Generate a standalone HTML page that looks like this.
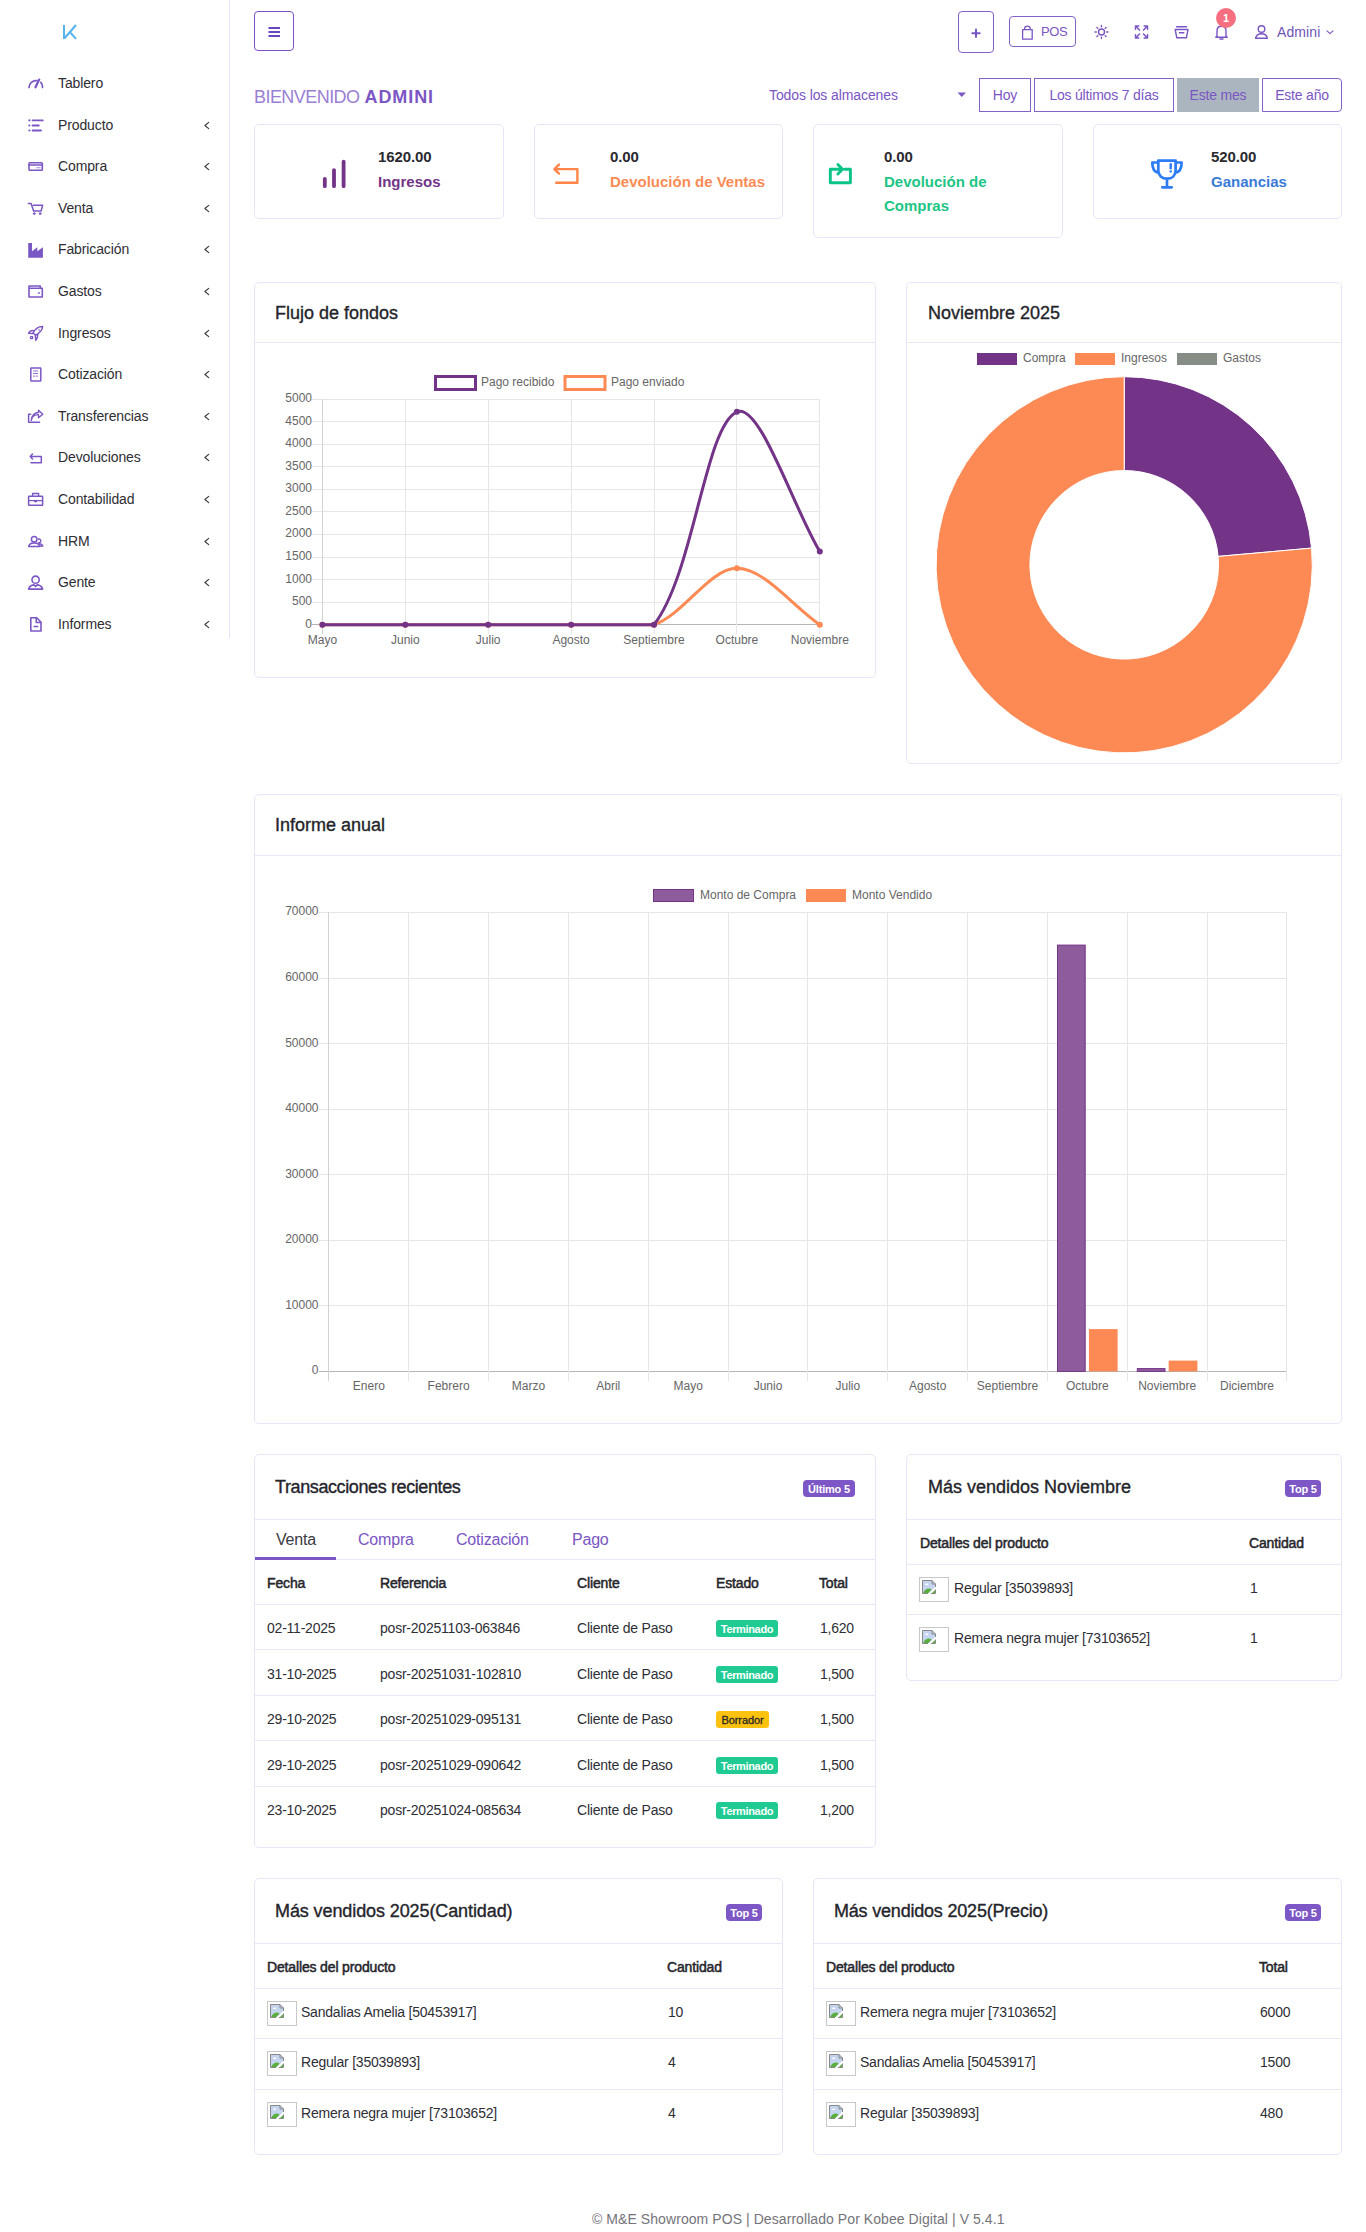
<!DOCTYPE html>
<html><head><meta charset="utf-8"><title>Dashboard</title>
<style>
*{box-sizing:border-box;margin:0;padding:0}
html,body{width:1366px;height:2232px;overflow:hidden;background:#fff;font-family:"Liberation Sans",sans-serif;color:#2c2c33;font-size:14px}
body{position:relative}
.abs{position:absolute}
#side{position:absolute;left:0;top:0;width:230px;height:638px;border-right:1px solid #e4e4fa;background:#fff}
.stx{position:absolute;left:58px;font-size:14px;color:#2e2e33;letter-spacing:-0.12px;white-space:nowrap;line-height:18px}
.card{position:absolute;background:#fff;border:1px solid #e6e6fa;border-radius:5px}
.ctitle{position:absolute;font-size:18px;color:#24242b;white-space:nowrap;letter-spacing:0px;line-height:22px;-webkit-text-stroke:0.35px #24242b}
.hl{position:absolute;height:1px;background:#e8e8f9}
.btn{position:absolute;border:1px solid #7a52c6;border-radius:4px;background:#fff;color:#7a52c6}
.fb{font-size:14px;text-align:center;line-height:32px;color:#7a55c4;letter-spacing:-0.2px;border-color:#8461c9}
.val{position:absolute;font-size:15px;font-weight:bold;color:#2a2a30;letter-spacing:-0.1px;line-height:18px}
.lab{position:absolute;font-size:15px;font-weight:bold;letter-spacing:0px;line-height:24px;white-space:nowrap}
.badge{position:absolute;background:#7e57c6;color:#fff;font-size:11px;font-weight:bold;border-radius:4px;text-align:center;line-height:18.5px;letter-spacing:-0.2px}
.th{position:absolute;font-weight:normal;-webkit-text-stroke:0.5px #25252b;font-size:14px;letter-spacing:-0.15px;color:#25252b;white-space:nowrap;line-height:18px}
.td{position:absolute;font-size:14px;letter-spacing:-0.22px;color:#2e2e35;white-space:nowrap;line-height:18px}
.ax{position:absolute;font-size:12px;color:#666;white-space:nowrap;line-height:14px}
.tab{position:absolute;font-size:16px;letter-spacing:-0.2px;white-space:nowrap;line-height:20px}
.sbadge{position:absolute;height:17px;border-radius:3px;font-size:11px;font-weight:bold;text-align:center;line-height:18px;letter-spacing:-0.35px}
.pimg{position:absolute;width:30px;height:25px;border:1px solid #c8c8c8;background:#fff}
</style></head>
<body>
<div id="side"></div>
<div class="stx" style="top:74px">Tablero</div>
<div class="stx" style="top:116px">Producto</div>
<div class="stx" style="top:157px">Compra</div>
<div class="stx" style="top:199px">Venta</div>
<div class="stx" style="top:240px">Fabricación</div>
<div class="stx" style="top:282px">Gastos</div>
<div class="stx" style="top:324px">Ingresos</div>
<div class="stx" style="top:365px">Cotización</div>
<div class="stx" style="top:407px">Transferencias</div>
<div class="stx" style="top:448px">Devoluciones</div>
<div class="stx" style="top:490px">Contabilidad</div>
<div class="stx" style="top:532px">HRM</div>
<div class="stx" style="top:573px">Gente</div>
<div class="stx" style="top:615px">Informes</div>
<svg class="abs" style="left:0;top:0" width="230" height="638" viewBox="0 0 230 638" fill="none" stroke="#7b57c5" stroke-width="1.6" stroke-linecap="round" stroke-linejoin="round">
<path d="M64 25 V38.9 M64.5 38.2 L76 25 M69.8 32 L76 38.9" stroke="#58b4ee" stroke-width="2.1" stroke-linecap="butt" stroke-linejoin="miter"/>
<path d="M29 87.5 A6.9 6.9 0 0 1 36.8 80.7" stroke-width="1.7"/><path d="M40.8 82.3 A6.9 6.9 0 0 1 42.6 87.5" stroke-width="1.7"/>
<path d="M35.5 87.3 L39.2 79.6" stroke-width="2.3"/>
<path d="M32.6 120.4 H42.8 M32.6 125.5 H38.8 M32.6 130.5 H41" stroke-width="1.8"/>
<circle cx="29.4" cy="120.4" r="1.1" fill="#7b57c5" stroke="none"/><circle cx="29.4" cy="125.5" r="1.1" fill="#7b57c5" stroke="none"/><circle cx="29.4" cy="130.5" r="1.1" fill="#7b57c5" stroke="none"/>
<rect x="29" y="162.7" width="13.3" height="7.6" rx="0.8" stroke-width="1.6"/><path d="M29 165 H42.3" stroke-width="1.7"/><path d="M36.7 167.8 H40.2" stroke-width="1.1" stroke-opacity="0.7"/>
<path d="M28.4 203.5 H31.1 L33.6 210.9 H41.2 L42.6 205.2 H33.4" stroke-width="1.5"/><circle cx="34.2" cy="213.6" r="0.9" fill="#7b57c5" stroke-width="1"/><circle cx="40.1" cy="213.6" r="0.9" fill="#7b57c5" stroke-width="1"/>
<path d="M28.2 243 H32 V251.3 L37.3 247.2 V251.3 L42.9 247.2 V257.8 H28.2 Z" fill="#7b57c5" stroke="none"/>
<path d="M29 286 H40.3 V288.3 M29 286 V297 H42.3 V288.3 H29.4" stroke-width="1.6"/><circle cx="39" cy="293" r="0.9" fill="#7b57c5" stroke="none"/>
<path d="M42.6 326.6 C38.5 326.5 35.3 328.8 33 332.8 L35.6 335.3 C39.6 333 42.5 330.2 42.6 326.6 Z" stroke-width="1.5"/><path d="M33.3 330.6 C31.2 330.4 29.5 331.5 28.5 333.3 L32.8 333.5 M37.7 334.4 C37.9 336.5 37.2 338.6 35.8 340.4 L35.3 335.6" stroke-width="1.4"/><rect x="30.5" y="336.6" width="2.2" height="2" rx="0.6" stroke-width="1.3"/><circle cx="39.1" cy="330.1" r="0.8" fill="#7b57c5" stroke="none"/>
<rect x="30.8" y="367.9" width="10" height="13.2" rx="0.5" stroke-width="1.5"/><path d="M33.5 371 H37.6 M33.5 373.5 H37.6 M33.5 376.1 H35.2 M36.6 376.1 H37.6" stroke-width="1" stroke-opacity="0.85"/>
<path d="M30.7 414.3 H28.6 V422.3 H39.5" stroke-width="1.5"/><path d="M31.3 420.4 C31.8 416.4 34.5 414.6 38.5 414.6 V417.8 L42.8 414.3 L38.5 410.2 V412.5 C35 412.5 31.5 415.5 31.3 420.4 Z" stroke-width="1.4"/>
<path d="M32.5 454 L30.2 456.5 L32.5 459 M30.6 456.5 H41.3 V462.8 H31" stroke-width="1.5"/>
<rect x="28.6" y="496.3" width="14" height="8.9" rx="0.5" stroke-width="1.5"/><path d="M32.6 496.3 V493.5 H38.6 V496.3 M28.6 500.6 H42.6" stroke-width="1.4"/><path d="M34.5 500.6 A1.1 1.1 0 0 0 36.7 500.6" stroke-width="1.5"/>
<circle cx="34.2" cy="539.2" r="2.8" stroke-width="1.5"/><path d="M28.6 546.6 C29 544.2 31 543 34.2 543 C37.4 543 39.4 544.2 39.8 546.6 Z" stroke-width="1.5"/><path d="M38.3 539.2 A1.8 1.8 0 1 1 38.6 542.6 M39.5 543.8 C41.3 544 42.5 544.8 42.8 546 H40.5" stroke-width="1.4"/>
<circle cx="35.6" cy="579.7" r="3.6" stroke-width="1.6"/><path d="M28.6 589.1 C29.3 586.5 31.5 585.1 34 584.9 L35.6 586.3 L37.2 584.9 C39.7 585.1 41.9 586.5 42.6 589.1 Z" stroke-width="1.6"/>
<path d="M30.8 617.8 H36.8 L41 622.2 V631 H30.8 Z" stroke-width="1.6"/><path d="M36.2 618.2 V622.4 H40.8" stroke-width="1.5"/><path d="M34 626.5 H37.7" stroke-width="1.3"/>
<path d="M208.7 122.3 L204.9 125.5 L208.7 128.7" stroke="#34343a" stroke-width="1.1"/>
<path d="M208.7 163.3 L204.9 166.5 L208.7 169.7" stroke="#34343a" stroke-width="1.1"/>
<path d="M208.7 205.3 L204.9 208.5 L208.7 211.7" stroke="#34343a" stroke-width="1.1"/>
<path d="M208.7 246.3 L204.9 249.5 L208.7 252.7" stroke="#34343a" stroke-width="1.1"/>
<path d="M208.7 288.3 L204.9 291.5 L208.7 294.7" stroke="#34343a" stroke-width="1.1"/>
<path d="M208.7 330.3 L204.9 333.5 L208.7 336.7" stroke="#34343a" stroke-width="1.1"/>
<path d="M208.7 371.3 L204.9 374.5 L208.7 377.7" stroke="#34343a" stroke-width="1.1"/>
<path d="M208.7 413.3 L204.9 416.5 L208.7 419.7" stroke="#34343a" stroke-width="1.1"/>
<path d="M208.7 454.3 L204.9 457.5 L208.7 460.7" stroke="#34343a" stroke-width="1.1"/>
<path d="M208.7 496.3 L204.9 499.5 L208.7 502.7" stroke="#34343a" stroke-width="1.1"/>
<path d="M208.7 538.3 L204.9 541.5 L208.7 544.7" stroke="#34343a" stroke-width="1.1"/>
<path d="M208.7 579.3 L204.9 582.5 L208.7 585.7" stroke="#34343a" stroke-width="1.1"/>
<path d="M208.7 621.3 L204.9 624.5 L208.7 627.7" stroke="#34343a" stroke-width="1.1"/>
</svg>
<!-- menu btn -->
<div class="btn" style="left:254px;top:11px;width:40px;height:40px"></div>
<svg class="abs" style="left:0;top:0" width="1366" height="240" viewBox="0 0 1366 240" fill="none">
<path d="M268.5 28 H280 M268.5 32 H280 M268.5 36 H280" stroke="#6a45bd" stroke-width="1.9"/>
</svg>
<!-- right header -->
<div class="btn" style="left:958px;top:11px;width:36px;height:42px;border-color:#8461c9"></div>
<div class="btn" style="left:1009px;top:16px;width:67px;height:31px;border-color:#8461c9"></div>
<div class="abs" style="left:1041px;top:24px;font-size:13px;line-height:16px;color:#7a55c4;letter-spacing:-0.4px">POS</div>
<svg class="abs" style="left:0;top:0" width="1366" height="120" viewBox="0 0 1366 120" fill="none" stroke="#7a55c4" stroke-width="1.4" stroke-linecap="round" stroke-linejoin="round">
<path d="M972.3 33.2 H979.7 M976 29.5 V36.9" stroke-width="2"/>
<!-- bag -->
<path d="M1022.6 29.6 H1032.2 V39.2 H1022.6 Z M1024.6 29.6 V28.6 C1024.6 25.3 1030.2 25.3 1030.2 28.6 V29.6" stroke-width="1.3"/>
<!-- sun -->
<circle cx="1101.5" cy="32" r="3"/><path d="M1101.5 25.5 V26.8 M1101.5 37.2 V38.5 M1095 32 H1096.3 M1106.7 32 H1108 M1096.9 27.4 L1097.8 28.3 M1105.2 35.7 L1106.1 36.6 M1096.9 36.6 L1097.8 35.7 M1105.2 28.3 L1106.1 27.4"/>
<!-- expand -->
<path d="M1135.5 26 L1139.5 30 M1147.5 26 L1143.5 30 M1135.5 38 L1139.5 34 M1147.5 38 L1143.5 34 M1135.5 26 V29.3 M1135.5 26 H1138.8 M1147.5 26 V29.3 M1147.5 26 H1144.2 M1135.5 38 V34.7 M1135.5 38 H1138.8 M1147.5 38 V34.7 M1147.5 38 H1144.2" stroke-width="1.5"/>
<!-- inbox/archive -->
<path d="M1175.2 29.5 H1188 L1186.4 37.8 H1176.8 Z M1176.6 26.8 H1186.6 M1179.4 32.8 H1183.8"/>
<!-- bell -->
<path d="M1217 36 V31 C1217 28 1218.8 26.3 1221.5 26.3 C1224.2 26.3 1226 28 1226 31 V36 L1227.2 37.2 H1215.8 Z M1220 39 H1223"/>
<!-- user -->
<circle cx="1261.5" cy="29" r="3.3"/><path d="M1255.6 38.2 C1256.3 35 1258.5 33.8 1261.5 33.8 C1264.5 33.8 1266.7 35 1267.4 38.2 Z"/>
<path d="M1327 30.8 L1330 33.6 L1333 30.8" stroke-width="1.1"/>
</svg>
<div class="abs" style="left:1216px;top:8px;width:20px;height:20px;border-radius:10px;background:#f56f81;color:#fff;font-size:11px;font-weight:bold;text-align:center;line-height:20px">1</div>
<div class="abs" style="left:1277px;top:24px;font-size:14px;line-height:16px;color:#6f54b6;letter-spacing:0.1px">Admini</div>

<!-- welcome -->
<div class="abs" style="left:254px;top:87px;font-size:18px;line-height:20px;white-space:nowrap"><span style="color:#9a80d4;letter-spacing:-0.55px">BIENVENIDO</span> <b style="color:#7b56c4;letter-spacing:0.9px">ADMINI</b></div>
<div class="abs" style="left:769px;top:87px;font-size:14px;color:#7a55c4;letter-spacing:-0.1px">Todos los almacenes</div>
<svg class="abs" style="left:957px;top:92px" width="10" height="6"><path d="M0.5 0.5 H9 L4.75 5 Z" fill="#7a55c4"/></svg>
<div class="btn fb" style="left:979px;top:78px;width:52px;height:34px;border-radius:0">Hoy</div>
<div class="btn fb" style="left:1034px;top:78px;width:140px;height:34px;border-radius:0">Los últimos 7 días</div>
<div class="btn fb" style="left:1177px;top:78px;width:82px;height:34px;border-radius:0;background:#abb5bf;border-color:#abb5bf">Este mes</div>
<div class="btn fb" style="left:1262px;top:78px;width:80px;height:34px;border-radius:0 4px 4px 0">Este año</div>

<!-- stat cards -->
<div class="card" style="left:254px;top:124px;width:250px;height:95px"></div>
<div class="card" style="left:534px;top:124px;width:249px;height:95px"></div>
<div class="card" style="left:813px;top:124px;width:250px;height:114px"></div>
<div class="card" style="left:1093px;top:124px;width:249px;height:95px"></div>
<svg class="abs" style="left:0;top:0" width="1366" height="240" viewBox="0 0 1366 240" fill="none" stroke-linecap="round" stroke-linejoin="round">
<path d="M324.8 178.9 V186.2 M334 170.1 V186.2 M343.6 161.6 V186.2" stroke="#733387" stroke-width="3.8"/>
<path d="M559 164.6 L554.4 169.1 L559 173.6 M555 169.1 H577.4 V182.7 H556.2" stroke="#fe8448" stroke-width="2.4"/>
<path d="M844.8 169.3 H850.4 V182.8 H830.3 V169.3 H841.6 M837.9 164.5 L842.5 169.3 L837.9 174" stroke="#0bc387" stroke-width="2.9"/>
<path d="M1158.3 160.6 H1175.6 V170.5 C1175.6 175.5 1172 178.7 1167 178.7 C1162 178.7 1158.3 175.5 1158.3 170.5 Z M1158.3 162.5 H1152.3 C1152.3 168.5 1154.5 172 1158.3 172.6 M1175.6 162.5 H1181.6 C1181.6 168.5 1179.4 172 1175.6 172.6 M1167 178.7 V187.3 M1162.3 187.3 H1171.7" stroke="#2d7cf6" stroke-width="2.7"/>
<path d="M1170.7 164.2 V168.2" stroke="#2d7cf6" stroke-width="2.4"/><circle cx="1170.7" cy="171.4" r="1.2" fill="#2d7cf6"/>
</svg>
<div class="stat">
<div class="val" style="left:378px;top:148px">1620.00</div>
<div class="lab" style="left:378px;top:170px;color:#733387">Ingresos</div>
<div class="val" style="left:610px;top:148px">0.00</div>
<div class="lab" style="left:610px;top:170px;color:#fa8b55">Devolución de Ventas</div>
<div class="val" style="left:884px;top:148px">0.00</div>
<div class="lab" style="left:884px;top:170px;color:#1cc584">Devolución de<br>Compras</div>
<div class="val" style="left:1211px;top:148px">520.00</div>
<div class="lab" style="left:1211px;top:170px;color:#3a7bd8">Ganancias</div>
</div>

<div class="card" style="left:254px;top:282px;width:622px;height:396px"></div>

<div class="ctitle" style="left:275px;top:302px">Flujo de fondos</div>
<div class="hl" style="left:255px;top:342px;width:620px"></div>
<div class="card" style="left:906px;top:282px;width:436px;height:482px"></div>

<div class="ctitle" style="left:928px;top:302px">Noviembre 2025</div>
<div class="hl" style="left:907px;top:342px;width:434px"></div>
<div class="card" style="left:254px;top:794px;width:1088px;height:630px"></div>

<div class="ctitle" style="left:275px;top:814px">Informe anual</div>
<div class="hl" style="left:255px;top:855px;width:1086px"></div>
<svg class="abs" style="left:0;top:0" width="1366" height="1440" viewBox="0 0 1366 1440" font-family="Liberation Sans" font-size="12" fill="#666">
<line x1="312" y1="624.5" x2="820" y2="624.5" stroke="#b5b5b5" stroke-width="1"/>
<text x="312" y="627.6" text-anchor="end">0</text>
<line x1="312" y1="602.5" x2="820" y2="602.5" stroke="#e6e6e6" stroke-width="1"/>
<text x="312" y="605.1" text-anchor="end">500</text>
<line x1="312" y1="579.5" x2="820" y2="579.5" stroke="#e6e6e6" stroke-width="1"/>
<text x="312" y="582.5" text-anchor="end">1000</text>
<line x1="312" y1="557.5" x2="820" y2="557.5" stroke="#e6e6e6" stroke-width="1"/>
<text x="312" y="560.0" text-anchor="end">1500</text>
<line x1="312" y1="534.5" x2="820" y2="534.5" stroke="#e6e6e6" stroke-width="1"/>
<text x="312" y="537.4" text-anchor="end">2000</text>
<line x1="312" y1="511.5" x2="820" y2="511.5" stroke="#e6e6e6" stroke-width="1"/>
<text x="312" y="514.9" text-anchor="end">2500</text>
<line x1="312" y1="489.5" x2="820" y2="489.5" stroke="#e6e6e6" stroke-width="1"/>
<text x="312" y="492.3" text-anchor="end">3000</text>
<line x1="312" y1="466.5" x2="820" y2="466.5" stroke="#e6e6e6" stroke-width="1"/>
<text x="312" y="469.8" text-anchor="end">3500</text>
<line x1="312" y1="444.5" x2="820" y2="444.5" stroke="#e6e6e6" stroke-width="1"/>
<text x="312" y="447.2" text-anchor="end">4000</text>
<line x1="312" y1="421.5" x2="820" y2="421.5" stroke="#e6e6e6" stroke-width="1"/>
<text x="312" y="424.6" text-anchor="end">4500</text>
<line x1="312" y1="399.5" x2="820" y2="399.5" stroke="#e6e6e6" stroke-width="1"/>
<text x="312" y="402.1" text-anchor="end">5000</text>
<line x1="322.5" y1="399" x2="322.5" y2="634" stroke="#d2d2d2" stroke-width="1"/>
<text x="322.4" y="644" text-anchor="middle">Mayo</text>
<line x1="405.5" y1="399" x2="405.5" y2="634" stroke="#e6e6e6" stroke-width="1"/>
<text x="405.3" y="644" text-anchor="middle">Junio</text>
<line x1="488.5" y1="399" x2="488.5" y2="634" stroke="#e6e6e6" stroke-width="1"/>
<text x="488.2" y="644" text-anchor="middle">Julio</text>
<line x1="571.5" y1="399" x2="571.5" y2="634" stroke="#e6e6e6" stroke-width="1"/>
<text x="571.1" y="644" text-anchor="middle">Agosto</text>
<line x1="654.5" y1="399" x2="654.5" y2="634" stroke="#e6e6e6" stroke-width="1"/>
<text x="654.0" y="644" text-anchor="middle">Septiembre</text>
<line x1="736.5" y1="399" x2="736.5" y2="634" stroke="#e6e6e6" stroke-width="1"/>
<text x="736.9" y="644" text-anchor="middle">Octubre</text>
<line x1="819.5" y1="399" x2="819.5" y2="634" stroke="#e6e6e6" stroke-width="1"/>
<text x="819.8" y="644" text-anchor="middle">Noviembre</text>
<path d="M322.4 624.7 C349.8 624.7 377.9 624.7 405.3 624.7 C432.7 624.7 460.8 624.7 488.2 624.7 C515.6 624.7 543.7 624.7 571.1 624.7 C598.5 624.7 629.2 624.7 654.0 624.7 C683.9 614.5 709.5 568.3 736.9 568.3 C764.3 568.3 792.4 606.1 819.8 624.7" fill="none" stroke="#fd8a54" stroke-width="3"/>
<circle cx="322.4" cy="624.7" r="3" fill="#fd8a54"/>
<circle cx="405.3" cy="624.7" r="3" fill="#fd8a54"/>
<circle cx="488.2" cy="624.7" r="3" fill="#fd8a54"/>
<circle cx="571.1" cy="624.7" r="3" fill="#fd8a54"/>
<circle cx="654.0" cy="624.7" r="3" fill="#fd8a54"/>
<circle cx="736.9" cy="568.3" r="3" fill="#fd8a54"/>
<circle cx="819.8" cy="624.7" r="3" fill="#fd8a54"/>
<path d="M322.4 624.7 C349.8 624.7 377.9 624.7 405.3 624.7 C432.7 624.7 460.8 624.7 488.2 624.7 C515.6 624.7 543.7 624.7 571.1 624.7 C598.5 624.7 639.4 624.7 654.0 624.7 C694.1 573.2 704.9 425.9 736.9 411.8 C759.6 401.8 792.4 505.5 819.8 551.6" fill="none" stroke="#733387" stroke-width="3"/>
<circle cx="322.4" cy="624.7" r="3" fill="#733387"/>
<circle cx="405.3" cy="624.7" r="3" fill="#733387"/>
<circle cx="488.2" cy="624.7" r="3" fill="#733387"/>
<circle cx="571.1" cy="624.7" r="3" fill="#733387"/>
<circle cx="654.0" cy="624.7" r="3" fill="#733387"/>
<circle cx="736.9" cy="411.8" r="3" fill="#733387"/>
<circle cx="819.8" cy="551.6" r="3" fill="#733387"/>
<rect x="435.5" y="376.5" width="40" height="13" fill="none" stroke="#733387" stroke-width="3"/>
<text x="481" y="386.3">Pago recibido</text>
<rect x="565" y="376.5" width="40" height="13" fill="none" stroke="#fd8a54" stroke-width="3"/>
<text x="611" y="386.3">Pago enviado</text>
<path d="M1124.20 376.70 A188.1 188.1 0 0 1 1311.56 548.10 L1218.13 556.43 A94.3 94.3 0 0 0 1124.20 470.50 Z" fill="#733387" stroke="#fff" stroke-width="1"/>
<path d="M1311.56 548.10 A188.1 188.1 0 1 1 1124.20 376.70 L1124.20 470.50 A94.3 94.3 0 1 0 1218.13 556.43 Z" fill="#fd8a54" stroke="#fff" stroke-width="1"/>
<rect x="977" y="353" width="40" height="12" fill="#733387"/><text x="1023" y="362.3">Compra</text>
<rect x="1075" y="353" width="40" height="12" fill="#fd8a54"/><text x="1121" y="362.3">Ingresos</text>
<rect x="1177" y="353" width="40" height="12" fill="#868c86"/><text x="1223" y="362.3">Gastos</text>
<line x1="319" y1="1371.5" x2="1287" y2="1371.5" stroke="#b5b5b5" stroke-width="1"/>
<text x="318.5" y="1374.3" text-anchor="end">0</text>
<line x1="319" y1="1305.5" x2="1287" y2="1305.5" stroke="#e6e6e6" stroke-width="1"/>
<text x="318.5" y="1308.7" text-anchor="end">10000</text>
<line x1="319" y1="1240.5" x2="1287" y2="1240.5" stroke="#e6e6e6" stroke-width="1"/>
<text x="318.5" y="1243.2" text-anchor="end">20000</text>
<line x1="319" y1="1174.5" x2="1287" y2="1174.5" stroke="#e6e6e6" stroke-width="1"/>
<text x="318.5" y="1177.6" text-anchor="end">30000</text>
<line x1="319" y1="1109.5" x2="1287" y2="1109.5" stroke="#e6e6e6" stroke-width="1"/>
<text x="318.5" y="1112.1" text-anchor="end">40000</text>
<line x1="319" y1="1043.5" x2="1287" y2="1043.5" stroke="#e6e6e6" stroke-width="1"/>
<text x="318.5" y="1046.5" text-anchor="end">50000</text>
<line x1="319" y1="978.5" x2="1287" y2="978.5" stroke="#e6e6e6" stroke-width="1"/>
<text x="318.5" y="981.0" text-anchor="end">60000</text>
<line x1="319" y1="912.5" x2="1287" y2="912.5" stroke="#e6e6e6" stroke-width="1"/>
<text x="318.5" y="915.4" text-anchor="end">70000</text>
<line x1="328.5" y1="912" x2="328.5" y2="1381" stroke="#d2d2d2" stroke-width="1"/>
<line x1="408.5" y1="912" x2="408.5" y2="1381" stroke="#e6e6e6" stroke-width="1"/>
<line x1="488.5" y1="912" x2="488.5" y2="1381" stroke="#e6e6e6" stroke-width="1"/>
<line x1="568.5" y1="912" x2="568.5" y2="1381" stroke="#e6e6e6" stroke-width="1"/>
<line x1="648.5" y1="912" x2="648.5" y2="1381" stroke="#e6e6e6" stroke-width="1"/>
<line x1="728.5" y1="912" x2="728.5" y2="1381" stroke="#e6e6e6" stroke-width="1"/>
<line x1="807.5" y1="912" x2="807.5" y2="1381" stroke="#e6e6e6" stroke-width="1"/>
<line x1="887.5" y1="912" x2="887.5" y2="1381" stroke="#e6e6e6" stroke-width="1"/>
<line x1="967.5" y1="912" x2="967.5" y2="1381" stroke="#e6e6e6" stroke-width="1"/>
<line x1="1047.5" y1="912" x2="1047.5" y2="1381" stroke="#e6e6e6" stroke-width="1"/>
<line x1="1127.5" y1="912" x2="1127.5" y2="1381" stroke="#e6e6e6" stroke-width="1"/>
<line x1="1207.5" y1="912" x2="1207.5" y2="1381" stroke="#e6e6e6" stroke-width="1"/>
<line x1="1286.5" y1="912" x2="1286.5" y2="1381" stroke="#e6e6e6" stroke-width="1"/>
<text x="368.8" y="1390" text-anchor="middle">Enero</text>
<text x="448.6" y="1390" text-anchor="middle">Febrero</text>
<text x="528.5" y="1390" text-anchor="middle">Marzo</text>
<text x="608.3" y="1390" text-anchor="middle">Abril</text>
<text x="688.2" y="1390" text-anchor="middle">Mayo</text>
<text x="768.0" y="1390" text-anchor="middle">Junio</text>
<text x="847.8" y="1390" text-anchor="middle">Julio</text>
<text x="927.7" y="1390" text-anchor="middle">Agosto</text>
<text x="1007.5" y="1390" text-anchor="middle">Septiembre</text>
<text x="1087.3" y="1390" text-anchor="middle">Octubre</text>
<text x="1167.2" y="1390" text-anchor="middle">Noviembre</text>
<text x="1247.0" y="1390" text-anchor="middle">Diciembre</text>
<rect x="1057.5" y="945.1" width="27.7" height="426.3" fill="#8e5c9d" stroke="#733387" stroke-width="1"/>
<rect x="1088.9" y="1329.1" width="28.7" height="42.3" fill="#fd8a54"/>
<rect x="1137.3" y="1368.6" width="27.7" height="2.8" fill="#8e5c9d" stroke="#733387" stroke-width="1"/>
<rect x="1168.7" y="1360.6" width="28.7" height="10.8" fill="#fd8a54"/>
<rect x="653.5" y="889.5" width="40" height="12" fill="#8e5c9d" stroke="#733387" stroke-width="1"/><text x="700" y="899">Monto de Compra</text>
<rect x="806" y="889" width="40" height="13" fill="#fd8a54"/><text x="852" y="899">Monto Vendido</text>
</svg>
<div class="card" style="left:254px;top:1454px;width:622px;height:394px"></div>
<div class="ctitle" style="left:275px;top:1476px;letter-spacing:-0.39px">Transacciones recientes</div>
<div class="badge" style="left:803px;top:1480px;width:52px;height:17px">Último 5</div>
<div class="hl" style="left:255px;top:1519px;width:620px"></div>
<div class="tab" style="left:276px;top:1530px;color:#3a3a44">Venta</div>
<div class="tab" style="left:358px;top:1530px;color:#7a55c4">Compra</div>
<div class="tab" style="left:456px;top:1530px;color:#7a55c4">Cotización</div>
<div class="tab" style="left:572px;top:1530px;color:#7a55c4">Pago</div>
<div class="hl" style="left:255px;top:1559px;width:620px"></div>
<div class="abs" style="left:255px;top:1557px;width:81px;height:2.5px;background:#7a55c4"></div>
<div class="th" style="left:267px;top:1574px">Fecha</div>
<div class="th" style="left:380px;top:1574px">Referencia</div>
<div class="th" style="left:577px;top:1574px">Cliente</div>
<div class="th" style="left:716px;top:1574px">Estado</div>
<div class="th" style="left:819px;top:1574px">Total</div>
<div class="hl" style="left:255px;top:1604px;width:620px"></div>
<div class="td" style="left:267px;top:1619px">02-11-2025</div>
<div class="td" style="left:380px;top:1619px">posr-20251103-063846</div>
<div class="td" style="left:577px;top:1619px">Cliente de Paso</div>
<div class="sbadge" style="left:716px;top:1620px;width:62px;background:#20cb93;color:#fff">Terminado</div>
<div class="td" style="left:820px;top:1619px">1,620</div>
<div class="td" style="left:267px;top:1664.5px">31-10-2025</div>
<div class="td" style="left:380px;top:1664.5px">posr-20251031-102810</div>
<div class="td" style="left:577px;top:1664.5px">Cliente de Paso</div>
<div class="sbadge" style="left:716px;top:1665.5px;width:62px;background:#20cb93;color:#fff">Terminado</div>
<div class="td" style="left:820px;top:1664.5px">1,500</div>
<div class="td" style="left:267px;top:1710px">29-10-2025</div>
<div class="td" style="left:380px;top:1710px">posr-20251029-095131</div>
<div class="td" style="left:577px;top:1710px">Cliente de Paso</div>
<div class="sbadge" style="left:716px;top:1711px;width:53px;background:#fdc10f;color:#2a2a2a;font-weight:normal;-webkit-text-stroke:0.3px #2a2a2a;letter-spacing:-0.1px">Borrador</div>
<div class="td" style="left:820px;top:1710px">1,500</div>
<div class="td" style="left:267px;top:1755.5px">29-10-2025</div>
<div class="td" style="left:380px;top:1755.5px">posr-20251029-090642</div>
<div class="td" style="left:577px;top:1755.5px">Cliente de Paso</div>
<div class="sbadge" style="left:716px;top:1756.5px;width:62px;background:#20cb93;color:#fff">Terminado</div>
<div class="td" style="left:820px;top:1755.5px">1,500</div>
<div class="td" style="left:267px;top:1801px">23-10-2025</div>
<div class="td" style="left:380px;top:1801px">posr-20251024-085634</div>
<div class="td" style="left:577px;top:1801px">Cliente de Paso</div>
<div class="sbadge" style="left:716px;top:1802px;width:62px;background:#20cb93;color:#fff">Terminado</div>
<div class="td" style="left:820px;top:1801px">1,200</div>
<div class="hl" style="left:255px;top:1649px;width:620px"></div>
<div class="hl" style="left:255px;top:1695px;width:620px"></div>
<div class="hl" style="left:255px;top:1740px;width:620px"></div>
<div class="hl" style="left:255px;top:1786px;width:620px"></div>
<div class="card" style="left:906px;top:1454px;width:436px;height:227px"></div>
<div class="ctitle" style="left:928px;top:1476px">Más vendidos Noviembre</div>
<div class="badge" style="left:1285px;top:1480px;width:36px;height:17px">Top 5</div>
<div class="hl" style="left:907px;top:1519px;width:434px"></div>
<div class="th" style="left:920px;top:1534px">Detalles del producto</div>
<div class="th" style="left:1249px;top:1534px">Cantidad</div>
<div class="hl" style="left:907px;top:1564px;width:434px"></div>
<div class="pimg" style="left:919px;top:1577px"><svg width="16" height="16" style="position:absolute;left:1px;top:1px" viewBox="0 0 16 16"><path d="M1.5 1.5 H11 L14.5 5 V7.5 L9 13 L7 14.5 H1.5 Z" fill="#c5d5f0"/><path d="M2 14.5 C3 11 5.5 9.5 8 9.5 C9 9.6 10 10 10.5 10.5 L7 14.5 Z" fill="#5aae3c"/><path d="M10.5 14.5 L14 11 V14.5 Z" fill="#5aae3c"/><path d="M4 6 C4.3 4.8 5.2 4.5 6 4.6 C6.6 4.6 7 5 7.5 6 Z" fill="#fff"/><path d="M1.5 14.5 V1.5 H11 L14.5 5 V8 M11 1.5 V5 H14.5 M14.5 10.5 V14.5 H10 M7 14.5 H1.5" fill="none" stroke="#888" stroke-width="1"/></svg></div>
<div class="td" style="left:954px;top:1579px">Regular [35039893]</div>
<div class="td" style="left:1250px;top:1579px">1</div>
<div class="pimg" style="left:919px;top:1627px"><svg width="16" height="16" style="position:absolute;left:1px;top:1px" viewBox="0 0 16 16"><path d="M1.5 1.5 H11 L14.5 5 V7.5 L9 13 L7 14.5 H1.5 Z" fill="#c5d5f0"/><path d="M2 14.5 C3 11 5.5 9.5 8 9.5 C9 9.6 10 10 10.5 10.5 L7 14.5 Z" fill="#5aae3c"/><path d="M10.5 14.5 L14 11 V14.5 Z" fill="#5aae3c"/><path d="M4 6 C4.3 4.8 5.2 4.5 6 4.6 C6.6 4.6 7 5 7.5 6 Z" fill="#fff"/><path d="M1.5 14.5 V1.5 H11 L14.5 5 V8 M11 1.5 V5 H14.5 M14.5 10.5 V14.5 H10 M7 14.5 H1.5" fill="none" stroke="#888" stroke-width="1"/></svg></div>
<div class="td" style="left:954px;top:1629px">Remera negra mujer [73103652]</div>
<div class="td" style="left:1250px;top:1629px">1</div>
<div class="hl" style="left:907px;top:1614px;width:434px"></div>
<div class="card" style="left:254px;top:1878px;width:529px;height:277px"></div>
<div class="ctitle" style="left:275px;top:1900px;letter-spacing:-0.1px">Más vendidos 2025(Cantidad)</div>
<div class="badge" style="left:726px;top:1904px;width:36px;height:17px">Top 5</div>
<div class="hl" style="left:255px;top:1943px;width:527px"></div>
<div class="th" style="left:267px;top:1958px">Detalles del producto</div>
<div class="th" style="left:667px;top:1958px">Cantidad</div>
<div class="hl" style="left:255px;top:1988px;width:527px"></div>
<div class="pimg" style="left:267px;top:2001px"><svg width="16" height="16" style="position:absolute;left:1px;top:1px" viewBox="0 0 16 16"><path d="M1.5 1.5 H11 L14.5 5 V7.5 L9 13 L7 14.5 H1.5 Z" fill="#c5d5f0"/><path d="M2 14.5 C3 11 5.5 9.5 8 9.5 C9 9.6 10 10 10.5 10.5 L7 14.5 Z" fill="#5aae3c"/><path d="M10.5 14.5 L14 11 V14.5 Z" fill="#5aae3c"/><path d="M4 6 C4.3 4.8 5.2 4.5 6 4.6 C6.6 4.6 7 5 7.5 6 Z" fill="#fff"/><path d="M1.5 14.5 V1.5 H11 L14.5 5 V8 M11 1.5 V5 H14.5 M14.5 10.5 V14.5 H10 M7 14.5 H1.5" fill="none" stroke="#888" stroke-width="1"/></svg></div>
<div class="td" style="left:301px;top:2003px">Sandalias Amelia [50453917]</div>
<div class="td" style="left:668px;top:2003px">10</div>
<div class="pimg" style="left:267px;top:2051px"><svg width="16" height="16" style="position:absolute;left:1px;top:1px" viewBox="0 0 16 16"><path d="M1.5 1.5 H11 L14.5 5 V7.5 L9 13 L7 14.5 H1.5 Z" fill="#c5d5f0"/><path d="M2 14.5 C3 11 5.5 9.5 8 9.5 C9 9.6 10 10 10.5 10.5 L7 14.5 Z" fill="#5aae3c"/><path d="M10.5 14.5 L14 11 V14.5 Z" fill="#5aae3c"/><path d="M4 6 C4.3 4.8 5.2 4.5 6 4.6 C6.6 4.6 7 5 7.5 6 Z" fill="#fff"/><path d="M1.5 14.5 V1.5 H11 L14.5 5 V8 M11 1.5 V5 H14.5 M14.5 10.5 V14.5 H10 M7 14.5 H1.5" fill="none" stroke="#888" stroke-width="1"/></svg></div>
<div class="td" style="left:301px;top:2053px">Regular [35039893]</div>
<div class="td" style="left:668px;top:2053px">4</div>
<div class="pimg" style="left:267px;top:2102px"><svg width="16" height="16" style="position:absolute;left:1px;top:1px" viewBox="0 0 16 16"><path d="M1.5 1.5 H11 L14.5 5 V7.5 L9 13 L7 14.5 H1.5 Z" fill="#c5d5f0"/><path d="M2 14.5 C3 11 5.5 9.5 8 9.5 C9 9.6 10 10 10.5 10.5 L7 14.5 Z" fill="#5aae3c"/><path d="M10.5 14.5 L14 11 V14.5 Z" fill="#5aae3c"/><path d="M4 6 C4.3 4.8 5.2 4.5 6 4.6 C6.6 4.6 7 5 7.5 6 Z" fill="#fff"/><path d="M1.5 14.5 V1.5 H11 L14.5 5 V8 M11 1.5 V5 H14.5 M14.5 10.5 V14.5 H10 M7 14.5 H1.5" fill="none" stroke="#888" stroke-width="1"/></svg></div>
<div class="td" style="left:301px;top:2104px">Remera negra mujer [73103652]</div>
<div class="td" style="left:668px;top:2104px">4</div>
<div class="hl" style="left:255px;top:2038px;width:527px"></div>
<div class="hl" style="left:255px;top:2089px;width:527px"></div>
<div class="card" style="left:813px;top:1878px;width:529px;height:277px"></div>
<div class="ctitle" style="left:834px;top:1900px;letter-spacing:-0.2px">Más vendidos 2025(Precio)</div>
<div class="badge" style="left:1285px;top:1904px;width:36px;height:17px">Top 5</div>
<div class="hl" style="left:814px;top:1943px;width:527px"></div>
<div class="th" style="left:826px;top:1958px">Detalles del producto</div>
<div class="th" style="left:1259px;top:1958px">Total</div>
<div class="hl" style="left:814px;top:1988px;width:527px"></div>
<div class="pimg" style="left:826px;top:2001px"><svg width="16" height="16" style="position:absolute;left:1px;top:1px" viewBox="0 0 16 16"><path d="M1.5 1.5 H11 L14.5 5 V7.5 L9 13 L7 14.5 H1.5 Z" fill="#c5d5f0"/><path d="M2 14.5 C3 11 5.5 9.5 8 9.5 C9 9.6 10 10 10.5 10.5 L7 14.5 Z" fill="#5aae3c"/><path d="M10.5 14.5 L14 11 V14.5 Z" fill="#5aae3c"/><path d="M4 6 C4.3 4.8 5.2 4.5 6 4.6 C6.6 4.6 7 5 7.5 6 Z" fill="#fff"/><path d="M1.5 14.5 V1.5 H11 L14.5 5 V8 M11 1.5 V5 H14.5 M14.5 10.5 V14.5 H10 M7 14.5 H1.5" fill="none" stroke="#888" stroke-width="1"/></svg></div>
<div class="td" style="left:860px;top:2003px">Remera negra mujer [73103652]</div>
<div class="td" style="left:1260px;top:2003px">6000</div>
<div class="pimg" style="left:826px;top:2051px"><svg width="16" height="16" style="position:absolute;left:1px;top:1px" viewBox="0 0 16 16"><path d="M1.5 1.5 H11 L14.5 5 V7.5 L9 13 L7 14.5 H1.5 Z" fill="#c5d5f0"/><path d="M2 14.5 C3 11 5.5 9.5 8 9.5 C9 9.6 10 10 10.5 10.5 L7 14.5 Z" fill="#5aae3c"/><path d="M10.5 14.5 L14 11 V14.5 Z" fill="#5aae3c"/><path d="M4 6 C4.3 4.8 5.2 4.5 6 4.6 C6.6 4.6 7 5 7.5 6 Z" fill="#fff"/><path d="M1.5 14.5 V1.5 H11 L14.5 5 V8 M11 1.5 V5 H14.5 M14.5 10.5 V14.5 H10 M7 14.5 H1.5" fill="none" stroke="#888" stroke-width="1"/></svg></div>
<div class="td" style="left:860px;top:2053px">Sandalias Amelia [50453917]</div>
<div class="td" style="left:1260px;top:2053px">1500</div>
<div class="pimg" style="left:826px;top:2102px"><svg width="16" height="16" style="position:absolute;left:1px;top:1px" viewBox="0 0 16 16"><path d="M1.5 1.5 H11 L14.5 5 V7.5 L9 13 L7 14.5 H1.5 Z" fill="#c5d5f0"/><path d="M2 14.5 C3 11 5.5 9.5 8 9.5 C9 9.6 10 10 10.5 10.5 L7 14.5 Z" fill="#5aae3c"/><path d="M10.5 14.5 L14 11 V14.5 Z" fill="#5aae3c"/><path d="M4 6 C4.3 4.8 5.2 4.5 6 4.6 C6.6 4.6 7 5 7.5 6 Z" fill="#fff"/><path d="M1.5 14.5 V1.5 H11 L14.5 5 V8 M11 1.5 V5 H14.5 M14.5 10.5 V14.5 H10 M7 14.5 H1.5" fill="none" stroke="#888" stroke-width="1"/></svg></div>
<div class="td" style="left:860px;top:2104px">Regular [35039893]</div>
<div class="td" style="left:1260px;top:2104px">480</div>
<div class="hl" style="left:814px;top:2038px;width:527px"></div>
<div class="hl" style="left:814px;top:2089px;width:527px"></div>
<div class="abs" style="left:592px;top:2211px;font-size:14px;color:#74747a;white-space:nowrap;letter-spacing:0.07px">© M&amp;E Showroom POS | Desarrollado Por Kobee Digital | V 5.4.1</div>
</body></html>
